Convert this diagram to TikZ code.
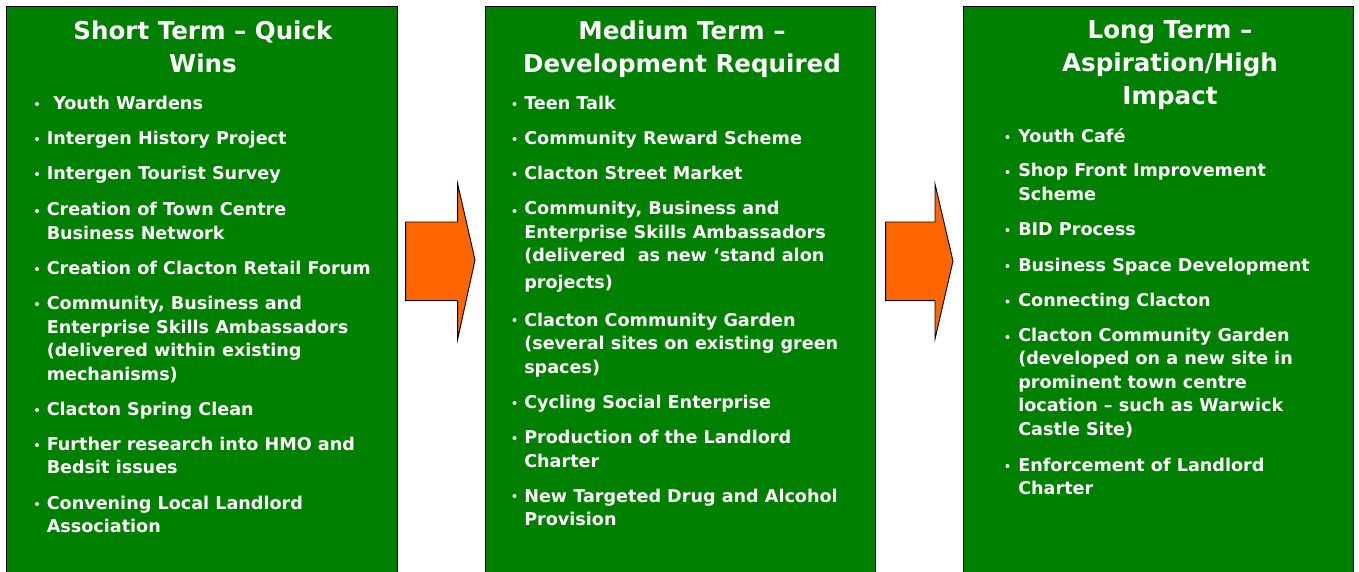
\documentclass[tikz,border=0pt]{standalone}
\usepackage{fontspec}
\setmainfont{DejaVu Sans}
\definecolor{pgreen}{RGB}{0,128,0}
\definecolor{porange}{RGB}{255,102,0}
\begin{document}
\begin{tikzpicture}[x=0.75pt,y=-0.75pt,
  panel/.style={draw=black,line width=0.75pt,fill=pgreen},
  ttl/.style={text=white,font=\bfseries\fontsize{18.4}{24.75}\selectfont,align=center,inner sep=0pt,anchor=base},
  itm/.style={text=white,font=\bfseries\fontsize{13.2}{17.6}\selectfont,align=left,inner sep=0pt,anchor=base west},
  dot/.style={circle,fill=white,inner sep=0pt,minimum size=3pt},
  arr/.style={fill=porange,draw=black,line width=0.7pt,line join=miter}]
\useasboundingbox (0,0) rectangle (1359,571);
\fill[white] (0,0) rectangle (1359,571);
% panels
\path[panel] (6,6) rectangle (397,574);
\path[panel] (485,6) rectangle (875,574);
\path[panel] (963,6) rectangle (1353,574);
% arrows
\coordinate (a1a) at (405.7,222);
\coordinate (a1b) at (457.7,222);
\coordinate (a1c) at (457.7,184);
\coordinate (a1t) at (475,260);
\coordinate (a1d) at (457.7,339);
\coordinate (a1e) at (457.7,300.7);
\coordinate (a1f) at (405.7,300.7);
\path[arr] (a1a) -- (a1b) -- (a1c) -- (a1t) -- (a1d) -- (a1e) -- (a1f) -- cycle;
\coordinate (a2a) at (885.7,222);
\coordinate (a2b) at (935,222);
\coordinate (a2c) at (935,184);
\coordinate (a2t) at (953,261);
\coordinate (a2d) at (935,339);
\coordinate (a2e) at (935,300.7);
\coordinate (a2f) at (885.7,300.7);
\path[arr] (a2a) -- (a2b) -- (a2c) -- (a2t) -- (a2d) -- (a2e) -- (a2f) -- cycle;
% titles (anchored at the baseline of the last line)
\node[ttl] (t1) at (203,72) {Short Term – Quick\\Wins};
\node[ttl] (t2) at (682,72) {Medium Term –\\Development Required};
\node[ttl] (t3) at (1170,104.5) {Long Term –\\Aspiration/High\\Impact};
% box 1
\node[dot] (d11) at (37,104) {};
\node[itm] (i11) at (53,109) {Youth Wardens};
\node[dot] (d12) at (37,139) {};
\node[itm] (i12) at (46.5,144) {Intergen History Project};
\node[dot] (d13) at (37,174) {};
\node[itm] (i13) at (46.5,179) {Intergen Tourist Survey};
\node[dot] (d14) at (37,211) {};
\node[itm] (i14) at (46.5,239) {Creation of Town Centre\\Business Network};
\node[dot] (d15) at (37,269) {};
\node[itm] (i15) at (46.5,274) {Creation of Clacton Retail Forum};
\node[dot] (d16) at (37,304) {};
\node[itm] (i16) at (46.5,380) {Community, Business and\\Enterprise Skills Ambassadors\\(delivered within existing\\mechanisms)};
\node[dot] (d17) at (37,410) {};
\node[itm] (i17) at (46.5,415) {Clacton Spring Clean};
\node[dot] (d18) at (37,445) {};
\node[itm] (i18) at (46.5,473.5) {Further research into HMO and\\Bedsit issues};
\node[dot] (d19) at (37,504) {};
\node[itm] (i19) at (46.5,532.5) {Convening Local Landlord\\Association};
% box 2
\node[dot] (d21) at (514.5,104) {};
\node[itm] (i21) at (524,109) {Teen Talk};
\node[dot] (d22) at (514.5,139) {};
\node[itm] (i22) at (524,144) {Community Reward Scheme};
\node[dot] (d23) at (514.5,174) {};
\node[itm] (i23) at (524,179) {Clacton Street Market};
\node[dot] (d24) at (514.5,211) {};
\node[itm] (i24) at (524,288) {Community, Business and\\Enterprise Skills Ambassadors\\(delivered\ \ as new ‘stand alon\\[2pt]projects)};
\node[dot] (d25) at (514.5,320) {};
\node[itm] (i25) at (524,373) {Clacton Community Garden\\(several sites on existing green\\spaces)};
\node[dot] (d26) at (514.5,403) {};
\node[itm] (i26) at (524,408) {Cycling Social Enterprise};
\node[dot] (d27) at (514.5,438) {};
\node[itm] (i27) at (524,467) {Production of the Landlord\\Charter};
\node[dot] (d28) at (514.5,496) {};
\node[itm] (i28) at (524,525.5) {New Targeted Drug and Alcohol\\Provision};
% box 3
\node[dot] (d31) at (1007.5,137) {};
\node[itm] (i31) at (1018,142) {Youth Café};
\node[dot] (d32) at (1007.5,172) {};
\node[itm] (i32) at (1018,200) {Shop Front Improvement\\Scheme};
\node[dot] (d33) at (1007.5,230) {};
\node[itm] (i33) at (1018,235) {BID Process};
\node[dot] (d34) at (1007.5,266) {};
\node[itm] (i34) at (1018,271) {Business Space Development};
\node[dot] (d35) at (1007.5,301.5) {};
\node[itm] (i35) at (1018,306.5) {Connecting Clacton};
\node[dot] (d36) at (1007.5,337) {};
\node[itm] (i36) at (1018,435) {Clacton Community Garden\\(developed on a new site in\\prominent town centre\\location – such as Warwick\\Castle Site)};
\node[dot] (d37) at (1007.5,466) {};
\node[itm] (i37) at (1018,494.5) {Enforcement of Landlord\\Charter};
\end{tikzpicture}
\end{document}
